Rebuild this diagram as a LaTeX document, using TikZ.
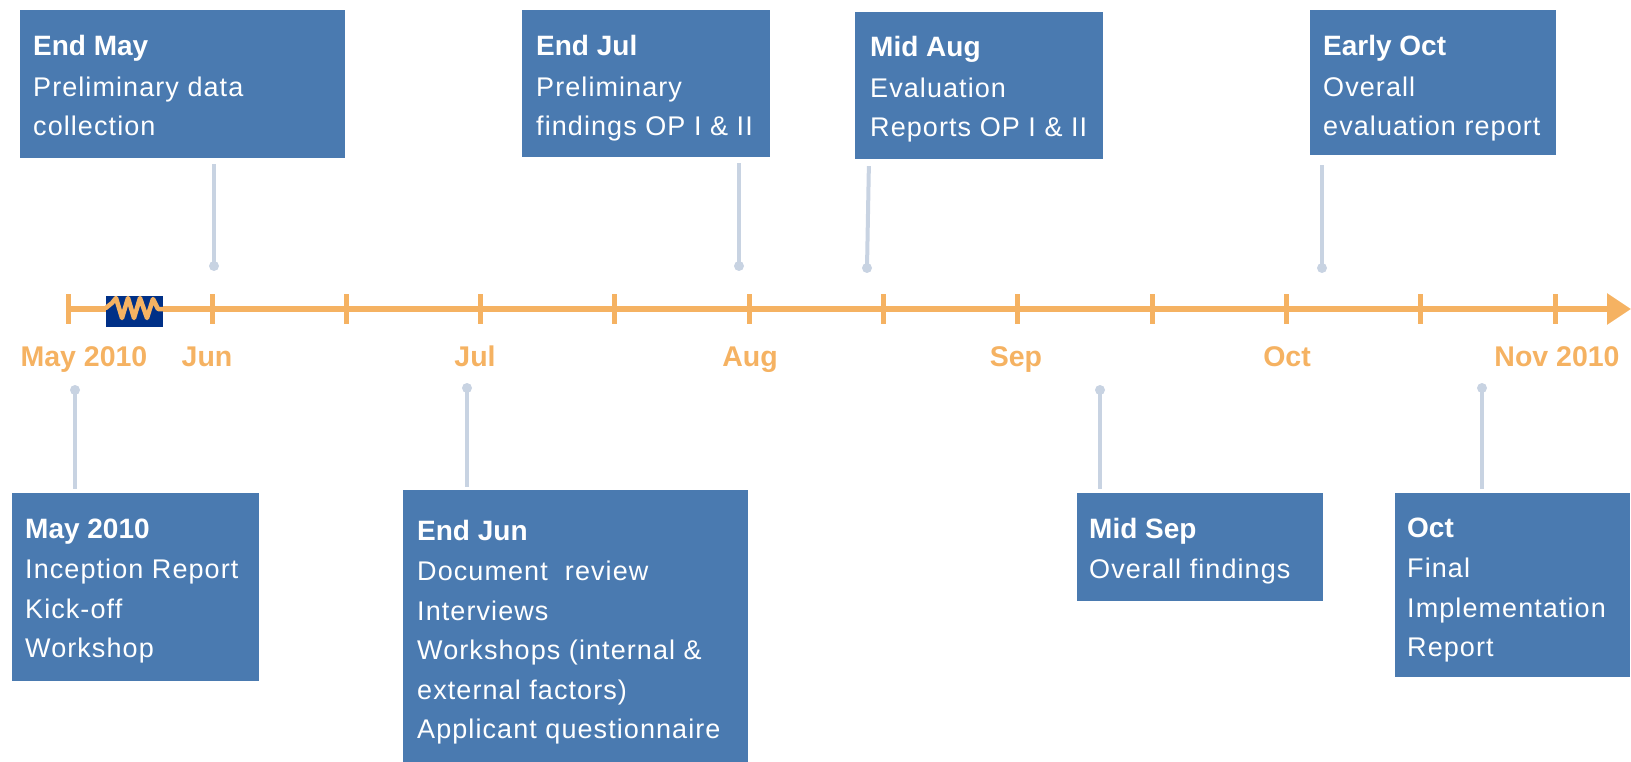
\documentclass[tikz,border=0pt]{standalone}
\usepackage{fontspec}
\setmainfont{Liberation Sans}
\newfontfamily\bodyfont[LetterSpace=4.0]{Liberation Sans}
\usetikzlibrary{arrows.meta,fit}
\definecolor{boxblue}{RGB}{74,122,176}
\definecolor{tlorange}{RGB}{245,178,98}
\definecolor{connc}{RGB}{200,211,226}
\definecolor{navy}{RGB}{0,48,135}
\newcommand{\boxlines}[1]{\parbox[t]{330pt}{\raggedright #1}}
\newcommand{\ttl}[1]{{\normalfont\bfseries\fontsize{28}{39}\selectfont #1}}
\tikzset{
  box/.style={fill=boxblue, draw=none, inner sep=0pt},
  boxtext/.style={anchor=base west, inner sep=0pt, text=white, font=\bodyfont\fontsize{27}{39.5}\selectfont},
  monthlbl/.style={anchor=base, inner sep=0pt, text=tlorange, font=\fontsize{28.5}{30}\selectfont\bfseries},
  tick/.style={draw=tlorange, line width=5pt},
  conn/.style={draw=connc, line width=4pt},
  dot/.style={fill=connc},
}
\begin{document}
\begin{tikzpicture}[x=1pt,y=-1pt]
\useasboundingbox (0,0) rectangle (1631,762);
% boxes
\node[box, fit={(20,10)(345,158)}] (b1) {};
\node[box, fit={(522,10)(770,157)}] (b2) {};
\node[box, fit={(855,12)(1103,159)}] (b3) {};
\node[box, fit={(1310,10)(1556,155)}] (b4) {};
\node[box, fit={(12,493)(259,681)}] (b5) {};
\node[box, fit={(403,490)(748,762)}] (b6) {};
\node[box, fit={(1077,493)(1323,601)}] (b7) {};
\node[box, fit={(1395,493)(1630,677)}] (b8) {};
% box texts
\node[boxtext] (t1) at (33,56) {\boxlines{\ttl{End May}\\[1pt]Preliminary data\\collection}};
\node[boxtext] (t2) at (536,56) {\boxlines{\ttl{End Jul}\\[1pt]Preliminary\\findings OP I \& II}};
\node[boxtext] (t3) at (870,57) {\boxlines{\ttl{Mid Aug}\\[1pt]Evaluation\\Reports OP I \& II}};
\node[boxtext] (t4) at (1323,56) {\boxlines{\ttl{Early Oct}\\[1pt]Overall\\evaluation report}};
\node[boxtext] (t5) at (25,538) {\boxlines{\ttl{May 2010}\\[1pt]Inception Report\\Kick-off\\Workshop}};
\node[boxtext] (t6) at (417,540) {\boxlines{\ttl{End Jun}\\[1pt]Document~~review\\Interviews\\Workshops (internal \&\\external factors)\\Applicant questionnaire}};
\node[boxtext] (t7) at (1089,538) {\boxlines{\ttl{Mid Sep}\\[1pt]Overall findings}};
\node[boxtext] (t8) at (1407,537) {\boxlines{\ttl{Oct}\\[1pt]Final\\Implementation\\Report}};
% timeline
\coordinate (tls) at (66,309);
\coordinate (tle) at (1631,309);
\draw[draw=tlorange, line width=6pt, -{Triangle[length=24pt,width=30pt]}] (tls) -- (tle);
\foreach \x in {68,212,346.3,480.6,614.9,749.2,883.5,1017.8,1152.1,1286.4,1420.7,1555}
  \draw[tick] (\x,294) -- (\x,324);
% break symbol
\node[fill=navy, inner sep=0pt, fit={(106,296)(163,327)}] (brk) {};
\draw[draw=tlorange, line width=4.5pt, line join=round, line cap=round]
  (brk.west |- 0,308) -- (112,303) -- (116,298) -- (122,318) -- (128,298) -- (134,318) -- (140,298) -- (147,318) -- (153,299) -- (158,309) -- (brk.east |- 0,309);
% month labels
\node[monthlbl] (m0) at (84,366) {May 2010};
\node[monthlbl] (m1) at (207,366) {Jun};
\node[monthlbl] (m2) at (475,366) {Jul};
\node[monthlbl] (m3) at (750,366) {Aug};
\node[monthlbl] (m4) at (1016,366) {Sep};
\node[monthlbl] (m5) at (1287,366) {Oct};
\node[monthlbl] (m6) at (1557,366) {Nov 2010};
% connectors
\coordinate (d1) at (214,266);
\coordinate (d2) at (739,266);
\coordinate (d3) at (867,268);
\coordinate (d4) at (1322,268);
\coordinate (d5) at (75,390);
\coordinate (d6) at (467,388);
\coordinate (d7) at (1100,390);
\coordinate (d8) at (1482,388);
\draw[conn, shorten >=6pt] (d1) -- (d1 |- b1.south);
\draw[conn, shorten >=6pt] (d2) -- (d2 |- b2.south);
\draw[conn, shorten >=7pt] (d3) -- ([xshift=2pt]d3 |- b3.south);
\draw[conn, shorten >=10pt] (d4) -- (d4 |- b4.south);
\draw[conn, shorten >=4pt] (d5) -- (d5 |- b5.north);
\draw[conn, shorten >=3pt] (d6) -- (d6 |- b6.north);
\draw[conn, shorten >=4pt] (d7) -- (d7 |- b7.north);
\draw[conn, shorten >=4pt] (d8) -- (d8 |- b8.north);
\foreach \d in {d1,d2,d3,d4,d5,d6,d7,d8}
  \fill[dot] (\d) circle (5pt);
\end{tikzpicture}
\end{document}
